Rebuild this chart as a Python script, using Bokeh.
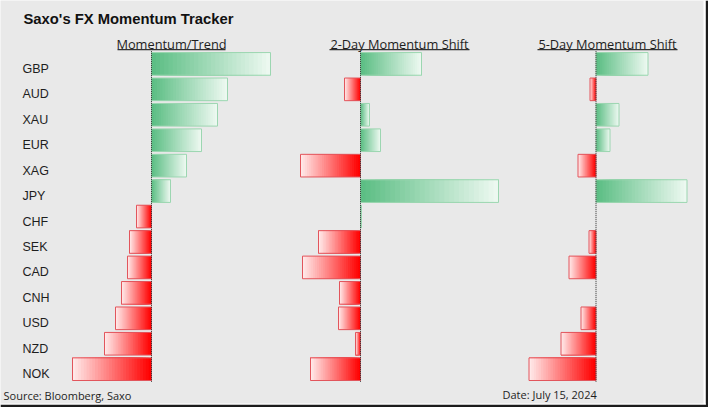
from bokeh.plotting import figure
from bokeh.models import Range1d, ColumnDataSource, LabelSet, Label, BoxAnnotation
from bokeh.core.properties import value
from bokeh.embed import file_html
from bokeh.resources import INLINE

# ---------------- data ----------------
currencies = ["GBP", "AUD", "XAU", "EUR", "XAG", "JPY", "CHF",
              "SEK", "CAD", "CNH", "USD", "NZD", "NOK"]
momentum_trend = [1.19, 0.76, 0.66, 0.50, 0.35, 0.19, -0.15,
                  -0.22, -0.24, -0.30, -0.36, -0.47, -0.79]
shift_2day = [0.61, -0.16, 0.09, 0.20, -0.60, 1.38, 0.01,
              -0.42, -0.58, -0.21, -0.22, -0.05, -0.50]
shift_5day = [0.52, -0.06, 0.23, 0.14, -0.18, 0.91, 0.00,
              -0.07, -0.27, 0.00, -0.15, -0.35, -0.67]
panel_titles = ["Momentum/Trend", "2-Day Momentum Shift", "5-Day Momentum Shift"]
chart_title = "Saxo's FX Momentum Tracker"
source_note = "Source: Bloomberg, Saxo"
date_note = "Date: July 15, 2024"

# ---------------- style ----------------
W, H = 708, 407
BG = "#e9e9e9"
GREEN_STRONG = (92, 190, 132)
GREEN_LIGHT = (236, 248, 240)
RED_STRONG = (255, 0, 0)
RED_LIGHT = (255, 232, 232)
GREEN_EDGE = "#9cd6b1"
RED_EDGE = "#e2555c"
N_STEPS = 28
BAR_H = 0.89
TXT = "#1e1e1e"

n = len(currencies)
p = figure(width=W, height=H, output_backend="svg", toolbar_location=None,
           x_range=Range1d(-1.51, 5.57), y_range=Range1d(13.506, -2.492),
           x_axis_location=None, y_axis_location=None, min_border=0,
           background_fill_color=BG, border_fill_color=BG, outline_line_color=None)
p.xgrid.visible = False
p.ygrid.visible = False
p.extra_x_ranges = {"p2": Range1d(-3.60, 3.48), "p3": Range1d(-5.955, 1.125)}


def mix(c1, c2, t):
    r, g, b = (round(a + (bb - a) * t) for a, bb in zip(c1, c2))
    return "#%02x%02x%02x" % (r, g, b)


def draw_panel(values, range_name):
    ys, lefts, rights, cols = [], [], [], []
    for k in range(N_STEPS):
        t = k / (N_STEPS - 1)
        for i, v in enumerate(values):
            if v == 0:
                continue
            inner = v * k / N_STEPS
            ys.append(i)
            lefts.append(min(inner, v))
            rights.append(max(inner, v))
            cols.append(mix(GREEN_STRONG, GREEN_LIGHT, t) if v > 0 else mix(RED_STRONG, RED_LIGHT, t))
    src = ColumnDataSource(dict(y=ys, left=lefts, right=rights, color=cols))
    p.hbar(y="y", left="left", right="right", height=BAR_H, fill_color="color",
           line_color=None, source=src, x_range_name=range_name)
    oy = [i for i, v in enumerate(values) if v != 0]
    ov = [v for v in values if v != 0]
    osrc = ColumnDataSource(dict(y=oy, left=[min(0, v) for v in ov], right=[max(0, v) for v in ov],
                                 edge=[GREEN_EDGE if v > 0 else RED_EDGE for v in ov]))
    p.hbar(y="y", left="left", right="right", height=BAR_H, fill_color=None,
           line_color="edge", line_width=1, source=osrc, x_range_name=range_name)
    p.segment(x0=0, y0=-0.5, x1=0, y1=n - 0.5, line_color="#2a2a2a", line_width=1,
              line_dash="1 1", x_range_name=range_name)


draw_panel(momentum_trend, "default")
draw_panel(shift_2day, "p2")
draw_panel(shift_5day, "p3")

# category labels
lab_src = ColumnDataSource(dict(y=list(range(n)), cur=currencies))
p.add_layout(LabelSet(x=22, y="y", text="cur", x_units="screen", source=lab_src,
                      text_font=value("Liberation Sans"), text_font_size=value("12.5px"),
                      text_color=TXT, text_baseline="middle", y_offset=-5))

# title
p.add_layout(Label(x=23, y=388.8, x_units="screen", y_units="screen", text=chart_title,
                   text_font="Liberation Sans", text_font_style="bold", text_font_size="14.8px",
                   text_color="#111111", text_baseline="middle"))

# panel headers with underline
head_x = [171, 399, 607]
head_span = [(117, 225), (329, 469), (537, 677)]
for t, hx, (l, r) in zip(panel_titles, head_x, head_span):
    p.add_layout(Label(x=hx, y=364, x_units="screen", y_units="screen", text=t,
                       text_font="Open Sans", text_font_size="12.8px", text_color=TXT,
                       text_align="center", text_baseline="middle"))
    p.add_layout(BoxAnnotation(left=l, right=r, bottom=357.3, top=358.4,
                               left_units="screen", right_units="screen",
                               bottom_units="screen", top_units="screen",
                               fill_color="#333333", fill_alpha=1, line_color=None))

# footer
p.add_layout(Label(x=3, y=12.3, x_units="screen", y_units="screen", text=source_note,
                   text_font="Open Sans", text_font_size="11px", text_color=TXT,
                   text_baseline="middle"))
p.add_layout(Label(x=502, y=12.6, x_units="screen", y_units="screen", text=date_note,
                   text_font="Open Sans", text_font_size="11px", text_color=TXT,
                   text_baseline="middle"))

# picture frame (right and bottom edge)
for (l, r, b, t, c) in [(703, 705.3, 0, 407, "#ffffff"), (705.3, 708, 0, 407, "#1c1c1c"),
                        (0, 705.3, 2.7, 4.0, "#ffffff"), (0, 708, 0, 2.7, "#1c1c1c")]:
    p.add_layout(BoxAnnotation(left=l, right=r, bottom=b, top=t,
                               left_units="screen", right_units="screen",
                               bottom_units="screen", top_units="screen",
                               fill_color=c, fill_alpha=1, line_color=None))

open("out.html", "w").write(file_html(p, INLINE))
